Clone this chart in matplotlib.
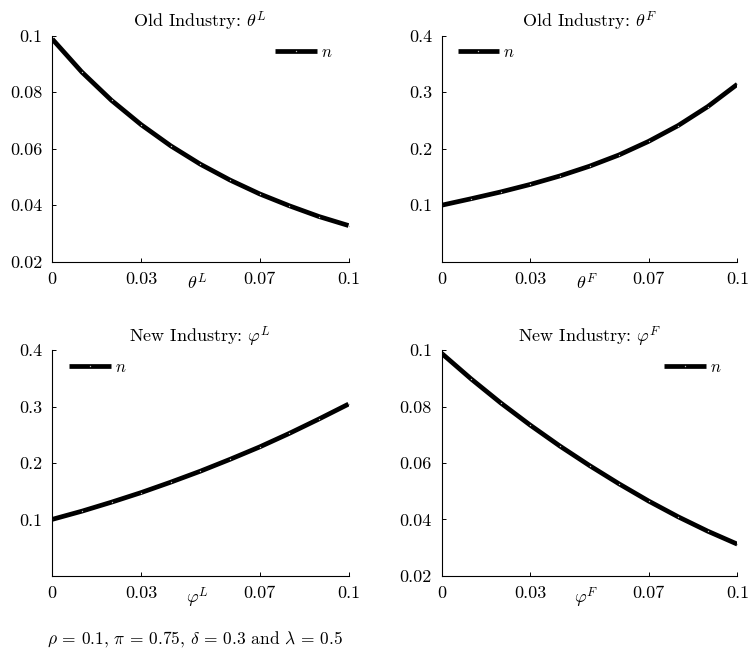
import numpy as np
import matplotlib
matplotlib.use("Agg")
import matplotlib.pyplot as plt

plt.rcParams['font.family'] = 'serif'
plt.rcParams['font.serif'] = ['cmr10', 'DejaVu Serif']
plt.rcParams['mathtext.fontset'] = 'cm'
plt.rcParams['axes.formatter.use_mathtext'] = True

x = [0.00, 0.01, 0.02, 0.03, 0.04, 0.05, 0.06, 0.07, 0.08, 0.09, 0.10]

old_L = [0.0988, 0.0871, 0.0771, 0.0685, 0.0610, 0.0545, 0.0489, 0.0440, 0.0398, 0.0360, 0.0328]
old_F = [0.100, 0.1115, 0.1235, 0.1368, 0.1518, 0.1690, 0.1890, 0.2130, 0.2410, 0.2745, 0.314]
new_L = [0.100, 0.1145, 0.1305, 0.1475, 0.1660, 0.1855, 0.2065, 0.2285, 0.2525, 0.2780, 0.3045]
new_F = [0.0989, 0.0898, 0.0813, 0.0734, 0.0660, 0.0591, 0.0526, 0.0465, 0.0409, 0.0358, 0.0312]

titles = [r"Old Industry: $\theta^L$", r"Old Industry: $\theta^F$",
          r"New Industry: $\varphi^L$", r"New Industry: $\varphi^F$"]
xlabels = [r"$\theta^L$", r"$\theta^F$", r"$\varphi^L$", r"$\varphi^F$"]
series = [old_L, old_F, new_L, new_F]

xticks = [0, 0.03, 0.07, 0.1]
xticklabels = ['0', '0.03', '0.07', '0.1']
small_ticks = [0.02, 0.04, 0.06, 0.08, 0.1]
small_labels = ['0.02', '0.04', '0.06', '0.08', '0.1']
big_ticks = [0.1, 0.2, 0.3, 0.4]
big_labels = ['0.1', '0.2', '0.3', '0.4']

fig = plt.figure(figsize=(7.49, 6.49), dpi=100)

W, H = 749, 649
boxes = [(52.3, 35.7, 348.5, 261.7), (441.7, 35.7, 737.3, 261.7),
         (52.3, 350.3, 348.5, 575.7), (441.7, 350.3, 737.3, 575.7)]
legend_x = [0.752, 0.054, 0.056, 0.752]
ylims = [(0.02, 0.1), (0, 0.4), (0, 0.4), (0.02, 0.1)]

for i in range(4):
    l, t, r, b = boxes[i]
    ax = fig.add_axes([l / W, 1 - b / H, (r - l) / W, (b - t) / H])
    ax.plot(x, series[i], color='black', lw=3.4, label=r'$n$',
            marker='o', markersize=1.0, markerfacecolor='#bbbbbb',
            markeredgecolor='none', solid_capstyle='butt', solid_joinstyle='round')
    ax.set_xlim(0, 0.1)
    ax.set_ylim(*ylims[i])
    ax.set_xticks(xticks)
    ax.set_xticklabels(xticklabels)
    if ylims[i][1] < 0.2:
        ax.set_yticks(small_ticks)
        ax.set_yticklabels(small_labels)
    else:
        ax.set_yticks(big_ticks)
        ax.set_yticklabels(big_labels)
    for s in ['top', 'right']:
        ax.spines[s].set_visible(False)
    for s in ['left', 'bottom']:
        ax.spines[s].set_linewidth(0.8)
    ax.tick_params(direction='in', length=3, width=0.7, labelsize=13)
    ax.tick_params(axis='x', pad=7)
    ax.tick_params(axis='y', pad=7)
    ax.set_title(titles[i], fontsize=13, pad=6)
    ax.set_xlabel(xlabels[i], fontsize=13)
    ax.xaxis.set_label_coords(0.49, -0.045)
    ax.legend(loc='upper left', bbox_to_anchor=(legend_x[i], 0.96),
              frameon=False, fontsize=12, handlelength=2.5,
              handletextpad=0.25, borderpad=0, borderaxespad=0)

fig.text(47 / W, 1 - 639 / H,
         r"$\rho$ = 0.1, $\pi$ = 0.75, $\delta$ = 0.3 and $\lambda$ = 0.5",
         fontsize=12.5, ha='left', va='center')

fig.savefig('out.png', dpi=100)
